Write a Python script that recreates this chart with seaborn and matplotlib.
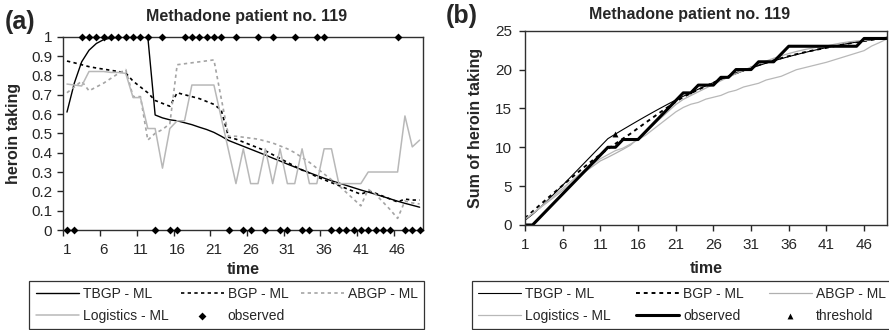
import numpy as np
import matplotlib
matplotlib.use('Agg')
import matplotlib.pyplot as plt
import seaborn as sns

# time points (weeks) of methadone patient no. 119
time = list(range(1, 50))

# observed heroin taking (0/1)
observed = [0, 0, 1, 1, 1, 1, 1, 1, 1, 1, 1, 1, 0, 1, 0, 0, 1, 1, 1, 1,
            1, 1, 0, 1, 0, 0, 1, 0, 1, 0, 0, 1, 0, 0, 1, 1, 0, 0, 0, 0,
            0, 0, 0, 0, 0, 1, 0, 0, 0]

# fitted probabilities
tbgp = [0.61, 0.76, 0.87, 0.93, 0.965, 0.985, 0.993, 0.997, 0.999, 1.0,
        1.0, 1.0, 0.595, 0.58, 0.57, 0.565, 0.555, 0.545, 0.532, 0.52,
        0.505, 0.485, 0.463, 0.448, 0.433, 0.418, 0.403, 0.388, 0.372, 0.357,
        0.341, 0.326, 0.311, 0.296, 0.282, 0.268, 0.255, 0.243, 0.231, 0.219,
        0.207, 0.196, 0.185, 0.173, 0.161, 0.149, 0.138, 0.128, 0.118]
bgp = [0.874, 0.865, 0.855, 0.845, 0.838, 0.832, 0.826, 0.82, 0.812, 0.77,
       0.74, 0.71, 0.67, 0.655, 0.64, 0.71, 0.70, 0.69, 0.68, 0.665,
       0.65, 0.62, 0.48, 0.47, 0.455, 0.44, 0.425, 0.41, 0.39, 0.37,
       0.35, 0.33, 0.31, 0.295, 0.275, 0.26, 0.245, 0.23, 0.215, 0.2,
       0.185, 0.2, 0.19, 0.175, 0.16, 0.145, 0.16, 0.155, 0.155]
abgp = [0.71, 0.74, 0.77, 0.72, 0.74, 0.76, 0.785, 0.81, 0.83, 0.69,
        0.69, 0.465, 0.5, 0.52, 0.55, 0.855, 0.86, 0.865, 0.87, 0.875,
        0.88, 0.68, 0.485, 0.485, 0.48, 0.475, 0.47, 0.46, 0.45, 0.435,
        0.42, 0.40, 0.375, 0.35, 0.32, 0.29, 0.26, 0.23, 0.195, 0.16,
        0.125, 0.21, 0.185, 0.145, 0.105, 0.06, 0.15, 0.14, 0.135]
logistic = [0.755, 0.75, 0.745, 0.82, 0.82, 0.82, 0.815, 0.815, 0.81, 0.685,
            0.685, 0.525, 0.525, 0.32, 0.525, 0.565, 0.565, 0.75, 0.75, 0.75,
            0.75, 0.58, 0.41, 0.24, 0.42, 0.24, 0.24, 0.42, 0.24, 0.42,
            0.24, 0.24, 0.42, 0.24, 0.24, 0.42, 0.42, 0.24, 0.24, 0.24,
            0.24, 0.30, 0.30, 0.30, 0.30, 0.30, 0.59, 0.43, 0.465]

threshold_time = 13
title = 'Methadone patient no. 119'

sns.set_style('white')
plt.rcParams['font.family'] = ['Liberation Sans', 'DejaVu Sans']

W, H = 889, 330
fig = plt.figure(figsize=(W / 100, H / 100), dpi=100)
ax_a = fig.add_axes([63.3 / W, 1 - 230 / H, 360 / W, 193.3 / H])
ax_b = fig.add_axes([525 / W, 1 - 225 / H, 361.7 / W, 194.3 / H])

dots = (0, (2, 2))
TICK = 11
LAB = 11.5

# ---- panel (a)
sns.lineplot(x=time, y=tbgp, ax=ax_a, color='black', lw=1.0, label='TBGP - ML')
sns.lineplot(x=time, y=bgp, ax=ax_a, color='black', lw=1.2, linestyle=dots, label='BGP - ML')
sns.lineplot(x=time, y=abgp, ax=ax_a, color='#a4a4a4', lw=1.2, linestyle=dots, label='ABGP - ML')
sns.lineplot(x=time, y=logistic, ax=ax_a, color='#b8b8b8', lw=1.1, label='Logistics - ML')
sns.scatterplot(x=time, y=observed, ax=ax_a, marker='D', s=16, color='black',
                linewidth=0, clip_on=False, zorder=5, label='observed')

ax_a.set_xlim(0.5, 49.5)
ax_a.set_ylim(0, 1)
ax_a.set_xticks(np.arange(0.5, 50, 5))
ax_a.set_xticklabels([])
ax_a.set_xticks(np.arange(1, 50, 5), minor=True)
ax_a.set_xticklabels([str(t) for t in range(1, 50, 5)], minor=True)
ax_a.tick_params(axis='x', which='major', direction='out', length=4, width=1, bottom=True)
ax_a.tick_params(axis='x', which='minor', length=0, pad=9.5, labelsize=TICK)
ax_a.set_yticks(np.arange(0, 1.01, 0.1))
ax_a.set_yticklabels(['0'] + ['%.1f' % v for v in np.arange(0.1, 0.95, 0.1)] + ['1'])
ax_a.tick_params(axis='y', direction='out', length=4, width=1, left=True, labelsize=TICK, pad=4)
ax_a.set_ylabel('heroin taking', fontsize=LAB, fontweight='bold')
ax_a.yaxis.set_label_coords(-0.118, 0.5)
ax_a.set_xlabel('time', fontsize=LAB, fontweight='bold')
ax_a.xaxis.set_label_coords(0.5, -0.165)

# ---- panel (b)
cum_tbgp = np.cumsum(tbgp)
sns.lineplot(x=time, y=cum_tbgp, ax=ax_b, color='black', lw=0.8, label='TBGP - ML')
sns.lineplot(x=time, y=np.cumsum(bgp), ax=ax_b, color='black', lw=1.4, linestyle=dots, label='BGP - ML')
sns.lineplot(x=time, y=np.cumsum(abgp), ax=ax_b, color='#b0b0b0', lw=0.9, label='ABGP - ML')
sns.lineplot(x=time, y=np.cumsum(logistic), ax=ax_b, color='#b8b8b8', lw=0.9, label='Logistics - ML')
sns.lineplot(x=time, y=np.cumsum(observed), ax=ax_b, color='black', lw=2.2, label='observed')
sns.scatterplot(x=[threshold_time], y=[cum_tbgp[threshold_time - 1]], ax=ax_b, marker='^',
                s=18, color='black', linewidth=0, zorder=5, label='threshold')

ax_b.set_xlim(1, 49)
ax_b.set_ylim(0, 25)
ax_b.set_xticks(np.arange(1, 50, 5))
ax_b.set_yticks(np.arange(0, 26, 5))
ax_b.tick_params(axis='both', direction='out', length=4, width=1, bottom=True, left=True,
                 labelsize=TICK, pad=5.5)
ax_b.set_ylabel('Sum of heroin taking', fontsize=LAB, fontweight='bold')
ax_b.yaxis.set_label_coords(-0.116, 0.5)
ax_b.set_xlabel('time', fontsize=LAB, fontweight='bold')
ax_b.xaxis.set_label_coords(0.5, -0.185)

for ax in (ax_a, ax_b):
    for sp in ax.spines.values():
        sp.set_visible(True)
        sp.set_color('#303030')
        sp.set_linewidth(1.0)

# legends, row-major order in three columns
def put_legend(ax, order, box):
    handles, labels = ax.get_legend_handles_labels()
    if ax.legend_ is not None:
        ax.legend_.remove()
    lookup = dict(zip(labels, handles))
    leg = fig.legend([lookup[k] for k in order], order, loc='lower left',
                     bbox_to_anchor=box, mode='expand', ncol=3, frameon=True,
                     fancybox=False, edgecolor='black', borderaxespad=0,
                     fontsize=10, handlelength=3.1, handletextpad=0.3,
                     labelspacing=0.55, borderpad=0.45, columnspacing=1.0)
    leg.get_frame().set_linewidth(0.9)
    return leg

put_legend(ax_a, ['TBGP - ML', 'Logistics - ML', 'BGP - ML', 'observed', 'ABGP - ML'],
           (29.3 / W, 1 / H, 394.7 / W, 47 / H))
put_legend(ax_b, ['TBGP - ML', 'Logistics - ML', 'BGP - ML', 'observed', 'ABGP - ML', 'threshold'],
           (472 / W, 1 / H, 420 / W, 47 / H))

# titles and panel labels
fig.text(246.7 / W, 1 - 16.7 / H, title, ha='center', va='center', fontsize=11.5, fontweight='bold')
fig.text(690 / W, 1 - 15 / H, title, ha='center', va='center', fontsize=11.5, fontweight='bold')
fig.text(5 / W, 1 - 22 / H, '(a)', ha='left', va='center', fontsize=18, fontweight='bold')
fig.text(446 / W, 1 - 16 / H, '(b)', ha='left', va='center', fontsize=18, fontweight='bold')

fig.savefig('out.png', dpi=100)
